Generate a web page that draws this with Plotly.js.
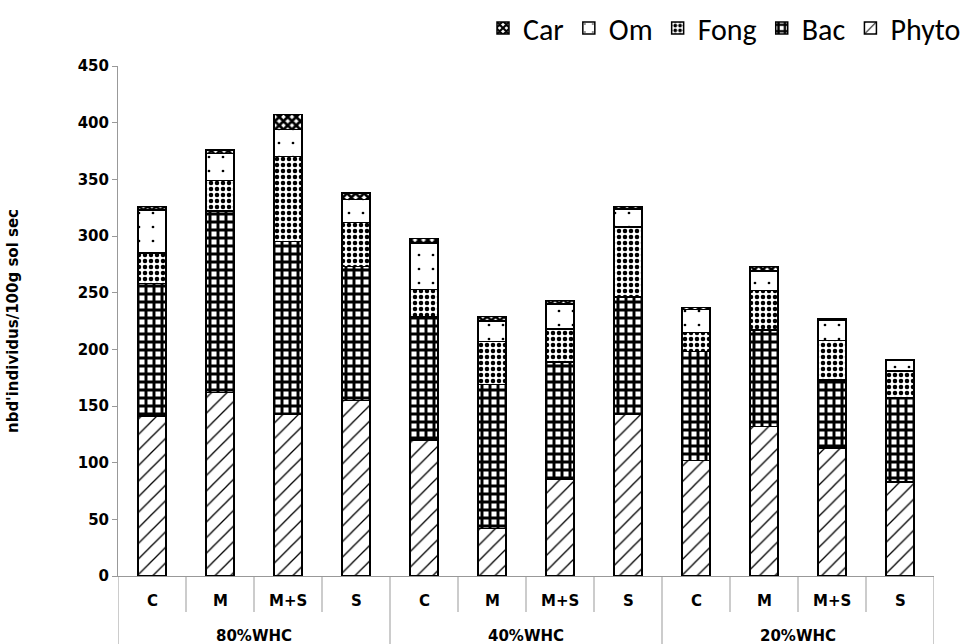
<!DOCTYPE html>
<html><head><meta charset="utf-8">
<script src="https://cdn.plot.ly/plotly-3.0.1.min.js"></script>
<style>body{margin:0;background:#fff}#chart{width:970px;height:644px}</style>
</head><body><div id="chart"></div>
<script>
const groups = ["80%WHC","80%WHC","80%WHC","80%WHC","40%WHC","40%WHC","40%WHC","40%WHC","20%WHC","20%WHC","20%WHC","20%WHC"];
const treatments = ["C","M","M+S","S","C","M","M+S","S","C","M","M+S","S"];
const phyto = [141,162,143,155,120,42,85,143,102,132,113,83];
const bac   = [117,160,152,118,109,127,104,103,96,85,60,74];
const fong  = [27,27,75,39,24,38,29,62,17,35,35,24];
const om    = [38,24,24,20,41,18,22,16,20,17,18,9];
const car   = [3,3,13,6,4,4,3,2,2,4,1,1];
const yTicks = [0,50,100,150,200,250,300,350,400,450];

const FONT = "Carlito, Lato, 'Liberation Sans', sans-serif";
const BOLD = "'DejaVu Sans', 'Liberation Sans', sans-serif";
const cats = groups.map((g, i) => g + " " + treatments[i]);

function tr(name, y, shape, size, sol) {
  return {
    type: "bar", name: name, x: cats, y: y,
    marker: {color: "#ffffff", line: {color: "#000", width: 1.5},
      pattern: {shape: shape, fgcolor: "#000", bgcolor: "#fff", size: size, solidity: sol, fillmode: "replace"}},
    hoverinfo: "y+name"
  };
}
const data = [
  tr("Phyto", phyto, "/", 11, 0.12),
  tr("Bac", bac, "+", 8, 0.6),
  tr("Fong", fong, ".", 6, 0.45),
  tr("Om", om, ".", 14, 0.03),
  tr("Car", car, "x", 6, 0.7)
];

const ML = 118, MR = 36, MT = 66, MB = 68;
const W = 970 - ML - MR, H = 644 - MT - MB;
const annotations = [];
const shapes = [];
cats.forEach((c, i) => {
  annotations.push({x: i, xref: "x", y: -25 / H, yref: "paper", yanchor: "middle", xanchor: "center", showarrow: false,
    text: "<b>" + treatments[i] + "</b>", font: {size: 15, family: BOLD}});
  if (i > 0 && groups[i] === groups[i-1]) {
    shapes.push({type: "line", xref: "x", yref: "paper", x0: i - 0.5, x1: i - 0.5, y0: 0, y1: -36 / H, line: {color: "#999", width: 1}});
  }
});
const uniq = [...new Set(groups)];
uniq.forEach(g => {
  const idx = groups.map((v, i) => v === g ? i : -1).filter(i => i >= 0);
  const first = idx[0], last = idx[idx.length - 1];
  annotations.push({x: (first + last) / 2, xref: "x", y: -60 / H, yref: "paper", yanchor: "middle", xanchor: "center", showarrow: false,
    text: "<b>" + g + "</b>", font: {size: 15, family: BOLD}});
});
[-0.5, 3.5, 7.5, 11.5].forEach(b => shapes.push({type: "line", xref: "x", yref: "paper", x0: b, x1: b, y0: 0, y1: -68 / H, line: {color: "#999", width: 1}}));

const layout = {
  width: 970, height: 644,
  margin: {l: ML, r: MR, t: MT, b: MB, autoexpand: false},
  barmode: "stack", bargap: 0.59,
  paper_bgcolor: "#fff", plot_bgcolor: "#fff",
  font: {family: FONT, color: "#000"},
  showlegend: true,
  legend: {orientation: "h", traceorder: "reversed", x: 1 + 32 / W, xanchor: "right", y: 1 + 38 / H, yanchor: "middle",
    font: {size: 30, family: FONT}, itemwidth: 30},
  xaxis: {type: "category", range: [-0.5, 11.5], showline: true, linecolor: "#999", linewidth: 1,
    ticks: "", showticklabels: false, fixedrange: true},
  yaxis: {range: [0, 450], tickvals: yTicks, ticks: "outside", ticklen: 5, tickcolor: "#999",
    showline: true, linecolor: "#999", showgrid: false, zeroline: false,
    tickfont: {size: 15, family: BOLD, weight: "bold"},
    title: {text: "<b>nbd'individus/100g sol sec</b>", font: {size: 15, family: BOLD}, standoff: 55}},
  annotations: annotations, shapes: shapes
};
Plotly.newPlot("chart", data, layout, {displayModeBar: false});
</script></body></html>
